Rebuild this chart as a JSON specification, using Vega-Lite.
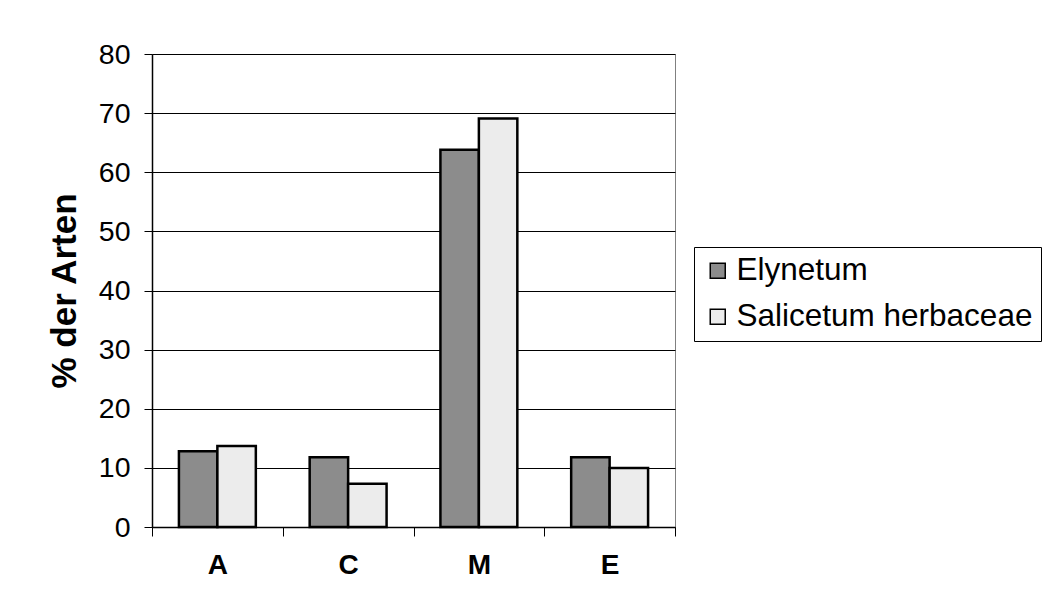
{
  "$schema": "https://vega.github.io/schema/vega-lite/v6.json",
  "width": 523,
  "height": 473,
  "autosize": {"type": "none"},
  "padding": {"left": 152, "top": 54, "right": 376, "bottom": 87},
  "background": "white",
  "data": {
    "values": [
      {"gruppe": "A", "gesellschaft": "Elynetum", "anteil": 12.8},
      {"gruppe": "A", "gesellschaft": "Salicetum herbaceae", "anteil": 13.7},
      {"gruppe": "C", "gesellschaft": "Elynetum", "anteil": 11.8},
      {"gruppe": "C", "gesellschaft": "Salicetum herbaceae", "anteil": 7.3},
      {"gruppe": "M", "gesellschaft": "Elynetum", "anteil": 63.8},
      {"gruppe": "M", "gesellschaft": "Salicetum herbaceae", "anteil": 69.1},
      {"gruppe": "E", "gesellschaft": "Elynetum", "anteil": 11.8},
      {"gruppe": "E", "gesellschaft": "Salicetum herbaceae", "anteil": 10.0}
    ]
  },
  "mark": {"type": "bar", "stroke": "black", "strokeWidth": 2.5},
  "encoding": {
    "x": {
      "field": "gruppe",
      "type": "nominal",
      "sort": ["A", "C", "M", "E"],
      "scale": {"paddingInner": 0, "paddingOuter": 0},
      "axis": {
        "title": null,
        "labelAngle": 0,
        "labelFont": "Liberation Sans",
        "labelFontSize": 28,
        "labelFontWeight": "bold",
        "labelColor": "black",
        "labelPadding": 15,
        "tickBand": "extent",
        "tickSize": 9,
        "tickColor": "black",
        "domainColor": "black",
        "domainWidth": 1.5
      }
    },
    "xOffset": {
      "field": "gesellschaft",
      "type": "nominal",
      "scale": {"paddingOuter": 0.7, "paddingInner": 0}
    },
    "y": {
      "field": "anteil",
      "type": "quantitative",
      "scale": {"domain": [0, 80], "nice": false},
      "axis": {
        "title": "% der Arten",
        "titleFont": "Liberation Sans",
        "titleFontSize": 35,
        "titleFontWeight": "bold",
        "titleColor": "black",
        "titlePadding": 16,
        "values": [0, 10, 20, 30, 40, 50, 60, 70, 80],
        "labelFont": "Liberation Sans",
        "labelFontSize": 28.5,
        "labelColor": "black",
        "labelPadding": 14,
        "tickSize": 8,
        "tickColor": "black",
        "domainColor": "black",
        "domainWidth": 1.5,
        "grid": true,
        "gridColor": "black",
        "gridWidth": 1
      }
    },
    "fill": {
      "field": "gesellschaft",
      "type": "nominal",
      "scale": {
        "domain": ["Elynetum", "Salicetum herbaceae"],
        "range": ["#8c8c8c", "#ececec"]
      },
      "legend": {
        "title": null,
        "orient": "none",
        "legendX": 542,
        "legendY": 193,
        "symbolType": "square",
        "symbolSize": 225,
        "symbolStrokeColor": "black",
        "symbolStrokeWidth": 1.5,
        "labelFont": "Liberation Sans",
        "labelFontSize": 31.5,
        "labelColor": "black",
        "labelOffset": 3,
        "labelLimit": 400,
        "rowPadding": 13,
        "padding": 8,
        "strokeColor": "black"
      }
    }
  },
  "config": {
    "view": {"stroke": "#808080", "strokeWidth": 1}
  }
}
